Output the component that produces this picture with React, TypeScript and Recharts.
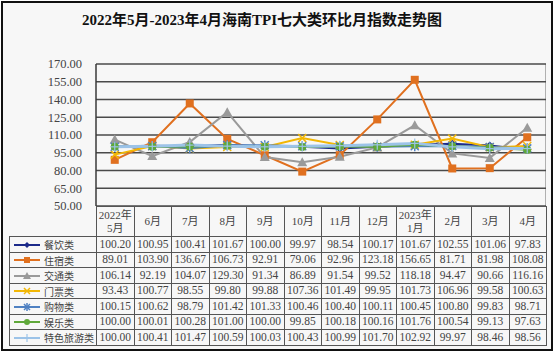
import React from 'react';
import { LineChart, Line, XAxis, YAxis, CartesianGrid } from 'recharts';

const months = ['2022年\n5月', '6月', '7月', '8月', '9月', '10月', '11月', '12月', '2023年\n1月', '2月', '3月', '4月'];
const yTicks = [50, 65, 80, 95, 110, 125, 140, 155, 170];

const catering = [100.2, 100.95, 100.41, 101.67, 100.0, 99.97, 98.54, 100.17, 101.67, 102.55, 101.06, 97.83];
const lodging = [89.01, 103.9, 136.67, 106.73, 92.91, 79.06, 92.96, 123.18, 156.65, 81.71, 81.98, 108.08];
const transport = [106.14, 92.19, 104.07, 129.3, 91.34, 86.89, 91.54, 99.52, 118.18, 94.47, 90.66, 116.16];
const tickets = [93.43, 100.77, 98.55, 99.8, 99.88, 107.36, 101.49, 99.95, 101.73, 106.96, 99.58, 100.63];
const shopping = [100.15, 100.62, 98.79, 101.42, 101.33, 100.46, 100.4, 100.11, 100.45, 100.8, 99.83, 98.71];
const leisure = [100.0, 100.01, 100.28, 101.0, 100.0, 99.85, 100.18, 100.16, 101.76, 100.54, 99.13, 97.63];
const special = [100.0, 100.41, 101.47, 100.59, 100.03, 100.43, 100.99, 101.7, 102.92, 99.97, 98.46, 98.56];

type Marker = 'diamond' | 'square' | 'triangle' | 'x' | 'star' | 'circle' | 'plus';

const series: { key: string; name: string; values: number[]; color: string; marker: Marker; width: number }[] = [
  { key: 'catering', name: '餐饮类', values: catering, color: '#1c2a8a', marker: 'diamond', width: 2 },
  { key: 'lodging', name: '住宿类', values: lodging, color: '#e0701f', marker: 'square', width: 2 },
  { key: 'transport', name: '交通类', values: transport, color: '#9a9a9a', marker: 'triangle', width: 2 },
  { key: 'tickets', name: '门票类', values: tickets, color: '#f2b705', marker: 'x', width: 2 },
  { key: 'shopping', name: '购物类', values: shopping, color: '#4f81c2', marker: 'star', width: 2 },
  { key: 'leisure', name: '娱乐类', values: leisure, color: '#5fa83a', marker: 'circle', width: 2 },
  { key: 'special', name: '特色旅游类', values: special, color: '#9cc3e8', marker: 'plus', width: 3 },
];

const data = months.map((m, i) => {
  const row: Record<string, any> = { month: m };
  series.forEach(s => (row[s.key] = s.values[i]));
  return row;
});

function drawMarker(type: Marker, x: number, y: number, color: string, k?: string, r = 4) {
  switch (type) {
    case 'diamond':
      return <polygon key={k} points={`${x},${y - r} ${x + r},${y} ${x},${y + r} ${x - r},${y}`} fill={color} />;
    case 'square':
      return <rect key={k} x={x - r} y={y - r} width={2 * r} height={2 * r} fill={color} />;
    case 'triangle':
      return <polygon key={k} points={`${x},${y - r - 1} ${x + r + 1},${y + r} ${x - r - 1},${y + r}`} fill={color} />;
    case 'x':
      return (
        <g key={k} stroke={color} strokeWidth={1.5}>
          <line x1={x - r} y1={y - r} x2={x + r} y2={y + r} />
          <line x1={x - r} y1={y + r} x2={x + r} y2={y - r} />
        </g>
      );
    case 'star':
      return (
        <g key={k} stroke={color} strokeWidth={1.5}>
          <line x1={x - r} y1={y - r} x2={x + r} y2={y + r} />
          <line x1={x - r} y1={y + r} x2={x + r} y2={y - r} />
          <line x1={x} y1={y - r - 1} x2={x} y2={y + r + 1} />
        </g>
      );
    case 'circle':
      return <circle key={k} cx={x} cy={y} r={r} fill={color} />;
    case 'plus':
      return (
        <g key={k} stroke={color} strokeWidth={1.2}>
          <line x1={x - r} y1={y} x2={x + r} y2={y} />
          <line x1={x} y1={y - r - 1} x2={x} y2={y + r + 1} />
        </g>
      );
  }
}

const FONT = '"Liberation Serif", "DejaVu Serif", "Noto Sans CJK SC", serif';
const PLOT_LEFT = 96;
const PLOT_RIGHT = 546;
const PLOT_TOP = 64;
const PLOT_BOTTOM = 206;
const COL_W = (PLOT_RIGHT - PLOT_LEFT) / months.length;
const BORDER = '1px solid #555';

export default function App() {
  return (
    <div
      style={{
        position: 'absolute',
        left: 0,
        top: 0,
        width: 554,
        height: 353,
        background: '#ffffff',
        fontFamily: FONT,
      }}
    >
      <div
        style={{
          position: 'absolute',
          left: 1,
          top: 1,
          width: 548,
          height: 346,
          border: '2px solid #111',
          background: '#f7f7f7',
        }}
      />
      <div
        style={{
          position: 'absolute',
          left: 0,
          top: 8,
          width: 524,
          textAlign: 'center',
          fontSize: 15,
          fontWeight: 'bold',
          color: '#111',
          fontFamily: '"Liberation Serif", "Noto Sans CJK SC", serif',
        }}
      >
        2022年5月-2023年4月海南TPI七大类环比月指数走势图
      </div>
      <div
        style={{
          position: 'absolute',
          left: PLOT_LEFT,
          top: PLOT_TOP,
          width: PLOT_RIGHT - PLOT_LEFT,
          height: PLOT_BOTTOM - PLOT_TOP,
          borderRight: '1px solid #b0b0b0',
          boxSizing: 'border-box',
        }}
      />
      <div style={{ position: 'absolute', left: 0, top: 0 }}>
        <LineChart
          width={554}
          height={353}
          data={data}
          margin={{ top: PLOT_TOP, right: 554 - PLOT_RIGHT, bottom: 353 - PLOT_BOTTOM, left: 0 }}
        >
          <CartesianGrid vertical={false} stroke="#4a4a4a" strokeWidth={1.5} />
          <XAxis dataKey="month" hide padding={{ left: COL_W / 2, right: COL_W / 2 }} />
          <YAxis
            width={PLOT_LEFT}
            domain={[50, 170]}
            ticks={yTicks}
            tickFormatter={(v: number) => v.toFixed(2)}
            tickLine={false}
            axisLine={{ stroke: '#3a3a3a', strokeWidth: 1.5 }}
            tick={{ fill: '#444', fontSize: 12.5, fontFamily: FONT }}
            tickMargin={8}
            interval={0}
          />
          {series.map(s => (
            <Line
              key={s.key}
              dataKey={s.key}
              name={s.name}
              stroke={s.color}
              strokeWidth={s.width}
              isAnimationActive={false}
              dot={(p: any) => drawMarker(s.marker, p.cx, p.cy, s.color, `${s.key}-${p.index}`)}
            />
          ))}
        </LineChart>
      </div>
      <table
        style={{
          position: 'absolute',
          left: 9,
          top: PLOT_BOTTOM,
          borderCollapse: 'collapse',
          tableLayout: 'fixed',
          width: PLOT_RIGHT - 9,
          fontSize: 11.5,
          color: '#444',
          fontFamily: FONT,
        }}
      >
        <colgroup>
          <col style={{ width: PLOT_LEFT - 9 }} />
          {months.map((m, i) => (
            <col key={i} style={{ width: COL_W }} />
          ))}
        </colgroup>
        <tbody>
          <tr>
            <td style={{ padding: 0, height: 29 }} />
            {months.map((m, i) => (
              <td
                key={i}
                style={{
                  border: BORDER,
                  padding: 0,
                  height: 29,
                  textAlign: 'center',
                  lineHeight: '13px',
                  fontSize: 11,
                  whiteSpace: 'pre-line',
                }}
              >
                {m}
              </td>
            ))}
          </tr>
          {series.map(s => (
            <tr key={s.key}>
              <td
                style={{
                  border: BORDER,
                  padding: 0,
                  height: 14.5,
                  whiteSpace: 'nowrap',
                  overflow: 'hidden',
                  lineHeight: '13px',
                }}
              >
                <svg width={28} height={10} style={{ verticalAlign: 'middle', marginLeft: 3 }}>
                  <line x1={1} y1={5} x2={27} y2={5} stroke={s.color} strokeWidth={2} />
                  {drawMarker(s.marker, 14, 5, s.color, undefined, 3)}
                </svg>
                <span
                  style={{
                    fontFamily: '"Noto Sans CJK SC", sans-serif',
                    fontSize: 10,
                    marginLeft: 3,
                    color: '#444',
                    verticalAlign: 'middle',
                  }}
                >
                  {s.name}
                </span>
              </td>
              {s.values.map((v, i) => (
                <td
                  key={i}
                  style={{ border: BORDER, padding: 0, height: 14.5, textAlign: 'center', lineHeight: '13px' }}
                >
                  {v.toFixed(2)}
                </td>
              ))}
            </tr>
          ))}
        </tbody>
      </table>
    </div>
  );
}
